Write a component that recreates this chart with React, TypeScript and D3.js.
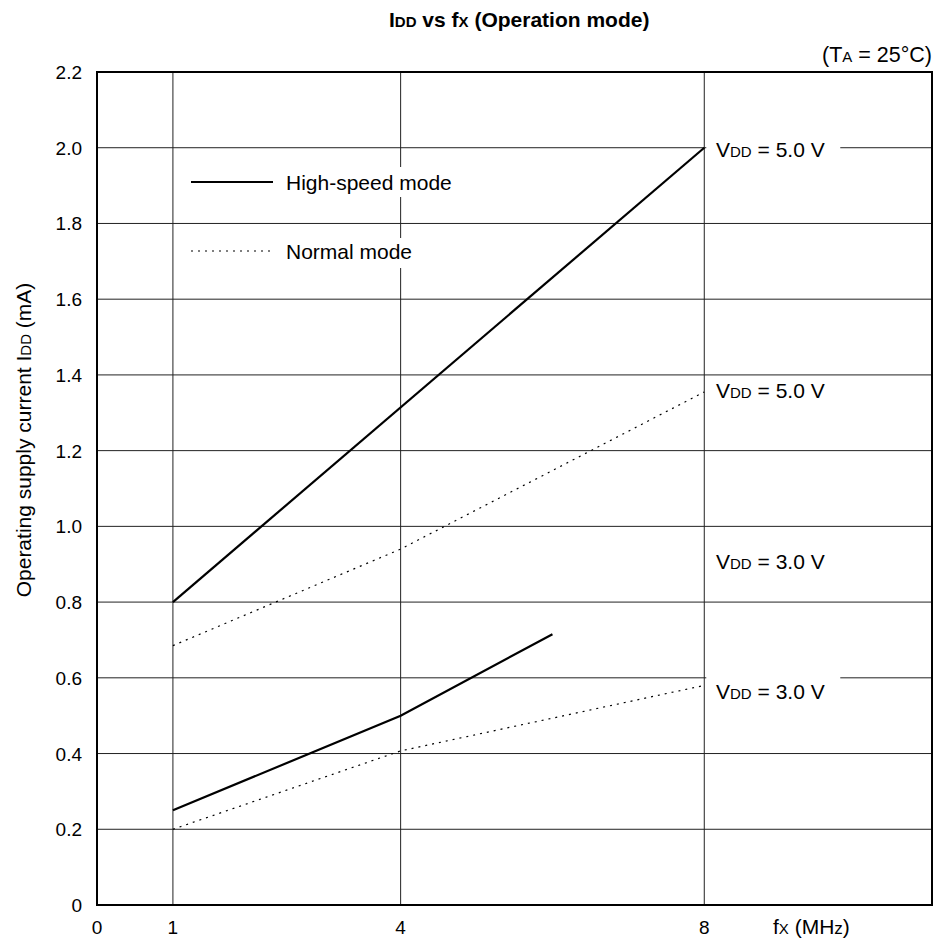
import React from "react";
import * as d3 from "d3";

const W = 934;
const H = 944;

const yTicks = [0, 0.2, 0.4, 0.6, 0.8, 1.0, 1.2, 1.4, 1.6, 1.8, 2.0, 2.2];
const xTicks = [0, 1, 4, 8];
const xGrid = [1, 4, 8];

const highSpeed5V: [number, number][] = [[1, 0.8], [8, 2.0]];
const normal5V: [number, number][] = [[1, 0.685], [4, 0.94], [8, 1.355]];
const highSpeed3V: [number, number][] = [[1, 0.25], [4, 0.5], [6, 0.715]];
const normal3V: [number, number][] = [[1, 0.2], [4, 0.407], [8, 0.58]];

const seriesLabels = [
  { v: "5.0", y: 2.0, bg: true, dy: 9 },
  { v: "5.0", y: 1.36, bg: false, dy: 8 },
  { v: "3.0", y: 0.92, bg: false, dy: 12 },
  { v: "3.0", y: 0.58, bg: true, dy: 14 },
];

const FONT = "'Liberation Sans', Arial, Helvetica, sans-serif";

export default function App() {
  const left = 97, right = 932, top = 72, bottom = 905;
  const x = d3.scaleLinear().domain([0, 11]).range([left, right]);
  const y = d3.scaleLinear().domain([0, 2.2]).range([bottom, top]);
  const line = d3.line<[number, number]>().x((d) => x(d[0])).y((d) => y(d[1]));

  return (
    <svg
      width={W}
      height={H}
      style={{ position: "absolute", left: 0, top: 0, display: "block", background: "#fff" }}
      fontFamily={FONT}
    >
      {/* title */}
      <text x={389} y={27} fontSize={21} fontWeight="bold" fill="#000">
        I<tspan fontSize={15}>DD</tspan> vs f<tspan fontSize={15}>X</tspan> (Operation mode)
      </text>
      <text x={932} y={62} textAnchor="end" fontSize={21.5} fill="#000">
        (T<tspan fontSize={15}>A</tspan> = 25°C)
      </text>

      {/* grid */}
      {yTicks.slice(1, -1).map((t) => (
        <line key={"gy" + t} x1={left} x2={right} y1={y(t)} y2={y(t)} stroke="#222" strokeWidth={1} />
      ))}
      {xGrid.map((t) => (
        <line key={"gx" + t} x1={x(t)} x2={x(t)} y1={top} y2={bottom} stroke="#222" strokeWidth={1} />
      ))}

      {/* frame */}
      <rect x={left} y={top} width={right - left} height={bottom - top} fill="none" stroke="#000" strokeWidth={2} />

      {/* y tick labels */}
      {yTicks.map((t) => (
        <text key={"yl" + t} x={82} y={y(t) + 7} textAnchor="end" fontSize={19} fill="#000">
          {t === 0 ? "0" : t.toFixed(1)}
        </text>
      ))}
      {/* x tick labels */}
      {xTicks.map((t) => (
        <text key={"xl" + t} x={x(t)} y={934} textAnchor="middle" fontSize={19} fill="#000">
          {t}
        </text>
      ))}
      <text x={773} y={934} fontSize={21} fill="#000">
        f<tspan fontSize={15}>X</tspan> (MH<tspan fontSize={17}>z</tspan>)
      </text>

      {/* y axis label */}
      <text
        transform={`translate(31, 440) rotate(-90)`}
        textAnchor="middle"
        fontSize={21}
        fill="#000"
      >
        Operating supply current I<tspan fontSize={15}>DD</tspan> (mA)
      </text>

      {/* series */}
      <path d={line(highSpeed5V) || ""} fill="none" stroke="#000" strokeWidth={2.2} />
      <path d={line(highSpeed3V) || ""} fill="none" stroke="#000" strokeWidth={2.2} />
      <path d={line(normal5V) || ""} fill="none" stroke="#000" strokeWidth={1.2} strokeDasharray="2,5" />
      <path d={line(normal3V) || ""} fill="none" stroke="#000" strokeWidth={1.2} strokeDasharray="2,5" />

      {/* legend */}
      <rect x={280} y={167} width={170} height={30} fill="#fff" />
      <line x1={191} x2={273} y1={182} y2={182} stroke="#000" strokeWidth={2.2} />
      <text x={286} y={190} fontSize={21} fill="#000">High-speed mode</text>
      <rect x={280} y={238} width={140} height={30} fill="#fff" />
      <line x1={191} x2={272} y1={251} y2={251} stroke="#000" strokeWidth={1.2} strokeDasharray="2,5" />
      <text x={286} y={259} fontSize={21} fill="#000">Normal mode</text>

      {/* VDD labels */}
      {seriesLabels.map((l, i) => (
        <g key={"sl" + i}>
          {l.bg && <rect x={x(8) + 2} y={y(l.y) - 12} width={134} height={24} fill="#fff" />}
          <text x={716} y={y(l.y) + l.dy} fontSize={21} fill="#000">
            V<tspan fontSize={15}>DD</tspan> = {l.v} V
          </text>
        </g>
      ))}
    </svg>
  );
}
